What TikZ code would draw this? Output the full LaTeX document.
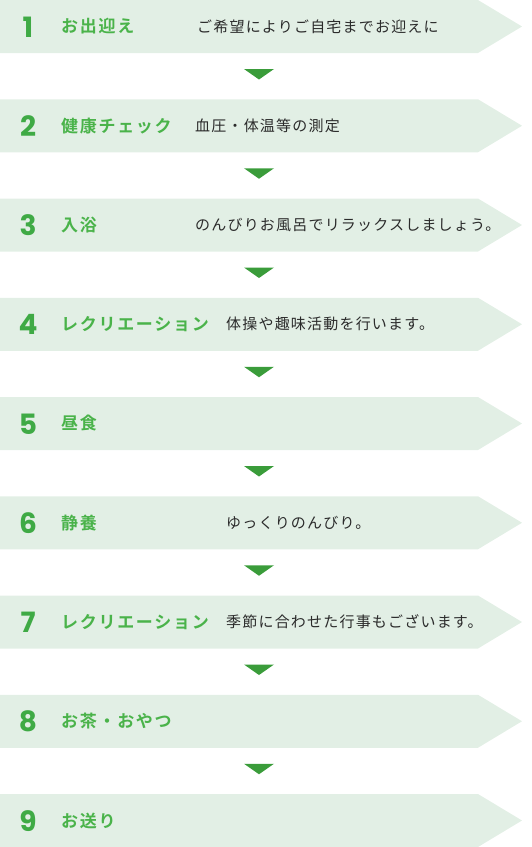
\documentclass[tikz,border=0pt]{standalone}
\usepackage{fontspec}
\setmainfont{Noto Sans CJK JP}
\newfontfamily\descfont{Noto Sans CJK JP}[LetterSpace=8]
\newfontfamily\lblfont{Noto Sans CJK JP Bold}[LetterSpace=10]
\newfontfamily\numfont{Poppins}
\definecolor{bandfill}{HTML}{E2EFE5}
\definecolor{lblgreen}{HTML}{4AB34A}
\definecolor{numgreen}{HTML}{3FAA45}
\definecolor{trigreen}{HTML}{3A9C3A}
\definecolor{desctext}{HTML}{2B2B2B}
\tikzset{
  band/.style={fill=bandfill, draw=none},
  numtxt/.style={anchor=center, font=\numfont\bfseries\fontsize{28}{28}\selectfont, text=numgreen, inner sep=0pt},
  lbltxt/.style={anchor=west, font=\lblfont\fontsize{17}{17}\selectfont, text=lblgreen, inner sep=0pt},
  desctxt/.style={anchor=west, font=\descfont\fontsize{15}{15}\selectfont, text=desctext, inner sep=0pt},
  downtri/.style={fill=trigreen, draw=none}
}
\begin{document}
\begin{tikzpicture}[x=1pt,y=1pt]
\useasboundingbox (0,0) rectangle (532,-847);
\foreach \k/\lbl/\dx/\desc in {
  1/お出迎え/197/ご希望によりご自宅までお迎えに,
  2/健康チェック/195/血圧・体温等の測定,
  3/入浴/195/のんびりお風呂でリラックスしましょう。,
  4/レクリエーション/226/体操や趣味活動を行います。,
  5/昼食/226/{},
  6/静養/226/ゆっくりのんびり。,
  7/レクリエーション/226/季節に合わせた行事もございます。,
  8/お茶・おやつ/226/{},
  9/お送り/226/{}}{
  \pgfmathsetmacro{\t}{-(\k-1)*99.25}
  \fill[band] (0,\t) -- (478,\t) -- (522,\t-26.5) -- (478,\t-53) -- (0,\t-53) -- cycle;
  \node[numtxt] (n\k) at (28,\t-27) {\k};
  \node[lbltxt] (l\k) at (61,\t-26.5) {\lbl};
  \node[desctxt] (d\k) at (\dx,\t-26.5) {\desc};
}
\foreach \k in {1,...,8}{
  \pgfmathsetmacro{\t}{-(\k-1)*99.25}
  \coordinate (tl\k) at (244,\t-69);
  \coordinate (tr\k) at (274,\t-69);
  \coordinate (tb\k) at (259,\t-79.5);
  \fill[downtri] (tl\k) -- (tr\k) -- (tb\k) -- cycle;
}
\end{tikzpicture}
\end{document}
